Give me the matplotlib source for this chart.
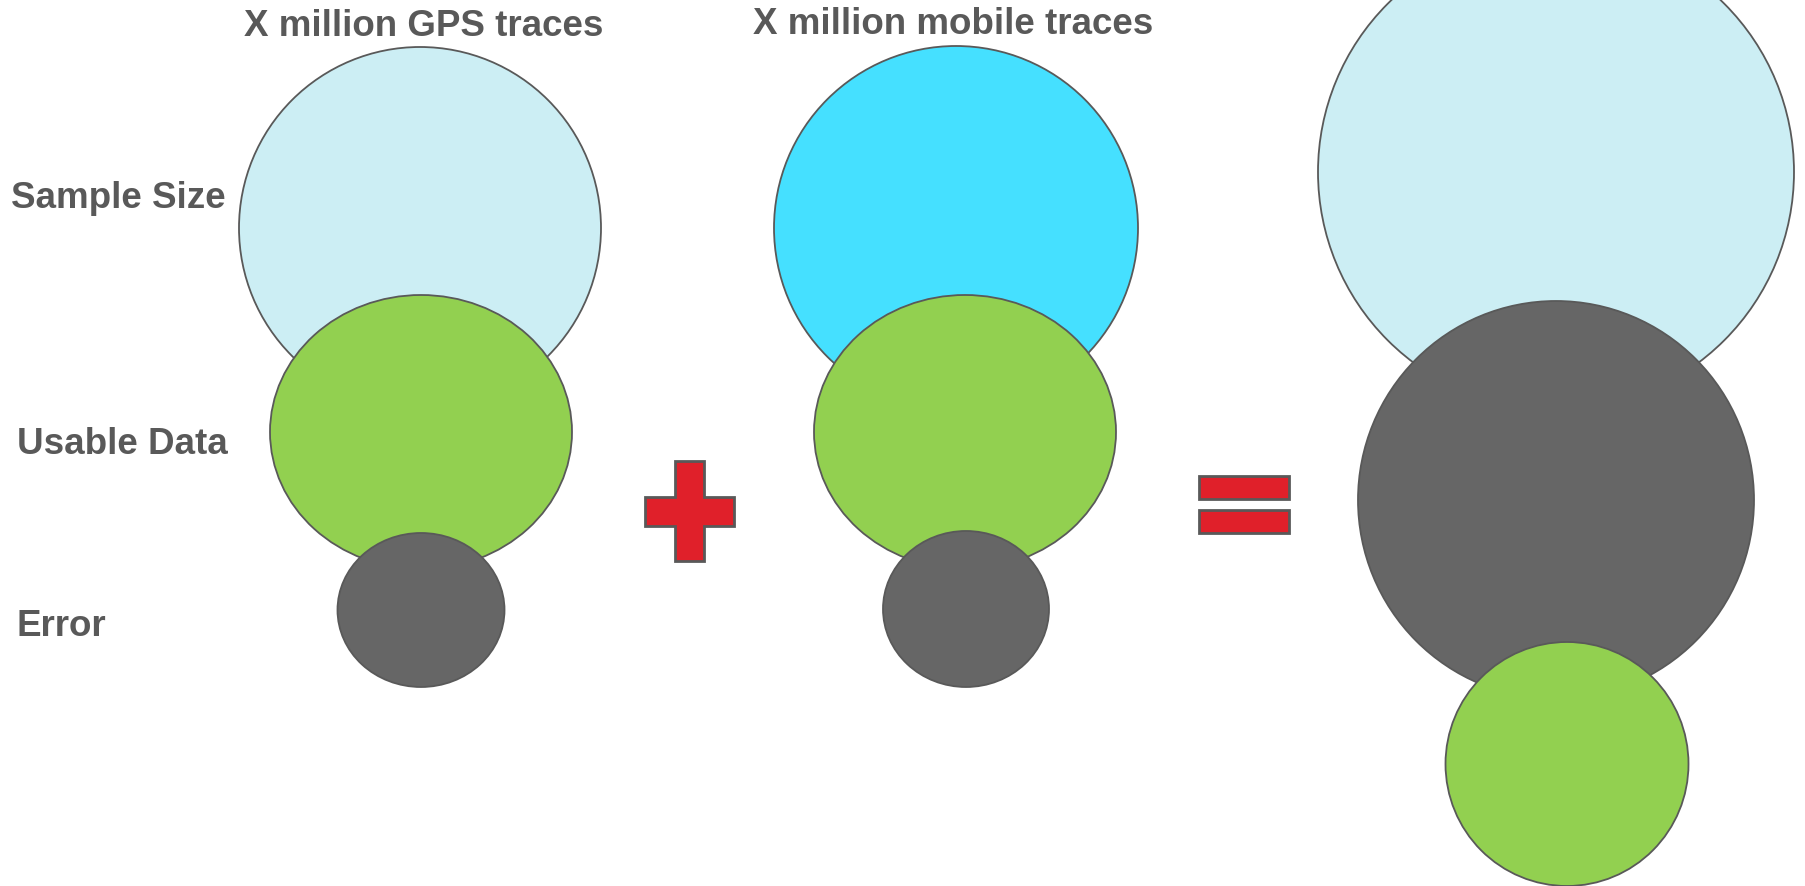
import matplotlib.pyplot as plt
from matplotlib.patches import Ellipse, Polygon, Rectangle

plt.rcParams['font.family'] = ['Liberation Sans', 'DejaVu Sans']

W, H = 1806, 887
text_grey = '#595959'
edge_grey = '#595959'

# circles: column, row, centre x, centre y, width, height, colour (in pixel units of the picture)
blob_names = ['gps_sample', 'gps_usable', 'gps_error',
              'mob_sample', 'mob_usable', 'mob_error',
              'all_sample', 'all_error', 'all_usable']
blob_x = [420, 421, 421, 956, 965, 966, 1556, 1556, 1567]
blob_y = [229, 433, 611, 229, 433, 610, 173, 501, 765]
blob_w = [362, 302, 167, 364, 302, 166, 476, 396, 243]
blob_h = [362, 274, 154, 364, 274, 156, 476, 398, 244]
blob_col = ['#CCEEF4', '#92D050', '#666666',
            '#45E0FF', '#92D050', '#666666',
            '#CCEEF4', '#666666', '#92D050']

headers = ['X million GPS traces', 'X million mobile traces']
header_x = [424, 953]
header_y = [27, 24]

row_labels = ['Sample Size', 'Usable Data', 'Error']
row_label_x = [11, 17, 17]
row_label_y = [199, 445, 627]

# plus sign outline
plus_x = [675, 704, 704, 734, 734, 704, 704, 675, 675, 645, 645, 675]
plus_y = [462, 462, 498, 498, 527, 527, 562, 562, 527, 527, 498, 498]

# equals sign bars: left, top, width, height
eq_left = [1199, 1199]
eq_top = [477, 511]
eq_w = [90, 90]
eq_h = [23, 23]

fig = plt.figure(figsize=(W / 100, H / 100), dpi=100)
ax = fig.add_axes([0, 0, 1, 1])
ax.set_xlim(0, W)
ax.set_ylim(H, 0)
ax.axis('off')

for i in range(len(blob_names)):
    ax.add_patch(Ellipse((blob_x[i], blob_y[i]), blob_w[i], blob_h[i],
                         facecolor=blob_col[i], edgecolor=edge_grey,
                         linewidth=1.3, zorder=i + 1))

ax.add_patch(Polygon(list(zip(plus_x, plus_y)), closed=True,
                     facecolor='#E0202A', edgecolor=edge_grey, linewidth=2, zorder=20))
for l, t, w, h in zip(eq_left, eq_top, eq_w, eq_h):
    ax.add_patch(Rectangle((l, t), w, h, facecolor='#E0202A',
                           edgecolor=edge_grey, linewidth=2, zorder=20))

for s, x, y in zip(headers, header_x, header_y):
    ax.text(x, y, s, ha='center', va='center', fontsize=26.5,
            fontweight='bold', color=text_grey, zorder=30)

for s, x, y in zip(row_labels, row_label_x, row_label_y):
    ax.text(x, y, s, ha='left', va='center', fontsize=26.5,
            fontweight='bold', color=text_grey, zorder=30)

fig.savefig('out.png', dpi=100)
